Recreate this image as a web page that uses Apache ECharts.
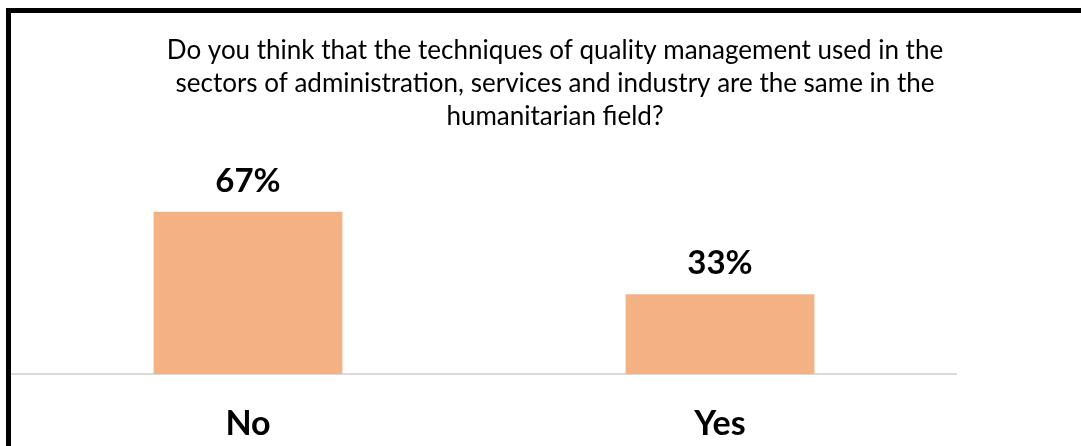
<!DOCTYPE html>
<html>
<head>
<meta charset="utf-8">
<script src="https://cdn.jsdelivr.net/npm/echarts@6/dist/echarts.min.js"></script>
<style>html,body{margin:0;padding:0;background:#fff;}#c{width:1081px;height:446px;}</style>
</head>
<body>
<div id="c"></div>
<script>
const titleText = "Do you think that the techniques of quality management used in the\nsectors of administration, services and industry are the same in the\nhumanitarian field?";
const categories = ["No", "Yes"];
const values = [67, 33];

const chart = echarts.init(document.getElementById('c'));
chart.setOption({
  animation: false,
  backgroundColor: '#fff',
  title: {
    text: titleText,
    left: 550,
    top: 29,
    textAlign: 'center',
    textStyle: { fontFamily: 'Lato', fontSize: 26, fontWeight: 'normal', color: '#000', lineHeight: 33 }
  },
  graphic: [{
    type: 'rect',
    shape: { x: 8.5, y: 10.5, width: 1200, height: 600 },
    style: { fill: 'none', stroke: '#000', lineWidth: 5 },
    silent: true, z: 100
  }],
  grid: { left: 12, right: 125, top: 132, bottom: 72 },
  xAxis: {
    type: 'category',
    data: categories,
    axisLine: { lineStyle: { color: '#d9d9d9', width: 2 } },
    axisTick: { show: false },
    axisLabel: { margin: 33, fontFamily: 'Lato', fontSize: 34, fontWeight: 'bold', color: '#000' }
  },
  yAxis: {
    type: 'value', min: 0, max: 100,
    show: false,
    splitLine: { show: false }
  },
  series: [{
    type: 'bar',
    data: values,
    barCategoryGap: '60%',
    itemStyle: { color: '#F4B183' },
    label: {
      show: true, position: 'top', distance: 14,
      formatter: '{c}%',
      fontFamily: 'Lato', fontSize: 33, fontWeight: 'bold', color: '#000'
    }
  }]
});
</script>
</body>
</html>
